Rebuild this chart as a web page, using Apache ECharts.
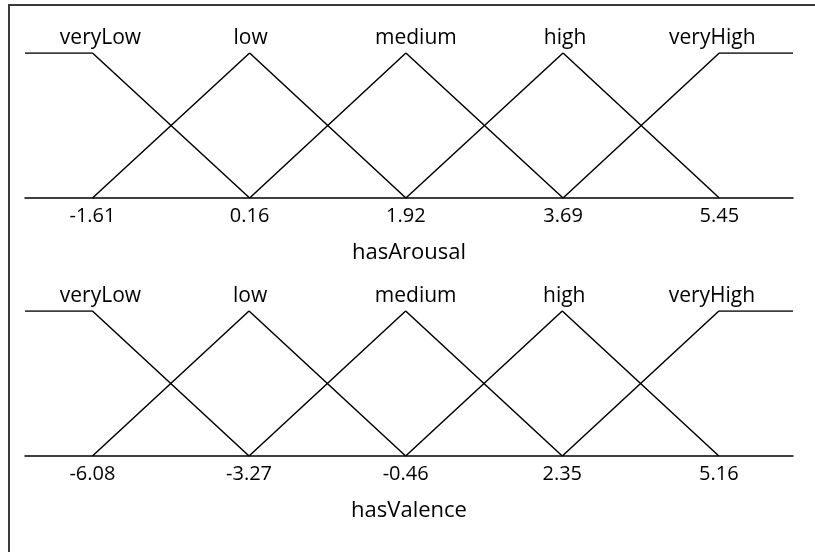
<!DOCTYPE html>
<html>
<head>
<meta charset="utf-8">
<script src="https://cdn.jsdelivr.net/npm/echarts@6/dist/echarts.min.js"></script>
<style>
    html, body { margin: 0; padding: 0; background: #fff; }
    #chart { width: 815px; height: 552px; }
</style>
</head>
<body>
<div id="chart"></div>
<script>
// fuzzy terms and their breakpoints
let terms = ['veryLow', 'low', 'medium', 'high', 'veryHigh'];
let arousalTicks = [-1.61, 0.16, 1.92, 3.69, 5.45];
let valenceTicks = [-6.08, -3.27, -0.46, 2.35, 5.16];
let arousalRange = [-2.37, 6.28];
let valenceRange = [-7.29, 6.49];

// label nudges so text sits like the original
let labelShift = [[8, 0], [1, 0], [10, 0], [2, 0], [-7, 0]];

function membership(ticks, range, i) {
    if (i === 0) return [[range[0], 1], [ticks[0], 1], [ticks[1], 0]];
    if (i === ticks.length - 1) return [[ticks[i - 1], 0], [ticks[i], 1], [range[1], 1]];
    return [[ticks[i - 1], 0], [ticks[i], 1], [ticks[i + 1], 0]];
}

function makeSeries(ticks, range, axisIndex) {
    return terms.map(function (name, i) {
        let pts = membership(ticks, range, i);
        return {
            name: name,
            type: 'line',
            xAxisIndex: axisIndex,
            yAxisIndex: axisIndex,
            showSymbol: true,
            symbol: 'circle',
            symbolSize: 0.01,
            animation: false,
            itemStyle: { color: '#000' },
            lineStyle: { color: '#000', width: 1.5 },
            label: { show: false },
            data: pts.map(function (p, k) {
                if (k !== 1) return p;
                return {
                    value: p,
                    label: {
                        show: true,
                        position: 'top',
                        distance: 4,
                        offset: labelShift[i],
                        formatter: name,
                        color: '#000',
                        fontFamily: 'Open Sans',
                        fontSize: 21
                    }
                };
            })
        };
    });
}

function xAxisFor(ticks, range, name, idx) {
    return {
        type: 'value',
        gridIndex: idx,
        min: range[0],
        max: range[1],
        name: name,
        nameLocation: 'middle',
        nameGap: 44,
        nameTextStyle: { color: '#000', fontFamily: 'Open Sans', fontSize: 22 },
        splitLine: { show: false },
        axisLine: { show: true, onZero: false, lineStyle: { color: '#000', width: 1.5 } },
        axisTick: { show: false },
        axisLabel: {
            customValues: ticks,
            margin: 8,
            color: '#000',
            fontFamily: 'Open Sans',
            fontSize: 20,
            formatter: function (v) { return v.toFixed(2); }
        }
    };
}

function yAxisFor(idx) {
    return {
        type: 'value',
        gridIndex: idx,
        min: 0,
        max: 1,
        show: false
    };
}

let chart = echarts.init(document.getElementById('chart'));
let option = {
    backgroundColor: '#fff',
    grid: [
        { left: 25, right: 22, top: 53, height: 145 },
        { left: 25, right: 22, top: 311, height: 145 }
    ],
    xAxis: [
        xAxisFor(arousalTicks, arousalRange, 'hasArousal', 0),
        xAxisFor(valenceTicks, valenceRange, 'hasValence', 1)
    ],
    yAxis: [yAxisFor(0), yAxisFor(1)],
    graphic: [{
        type: 'rect',
        shape: { x: 9, y: 5, width: 830, height: 560 },
        style: { fill: 'none', stroke: '#3a3a3a', lineWidth: 2 },
        silent: true
    }],
    series: makeSeries(arousalTicks, arousalRange, 0)
        .concat(makeSeries(valenceTicks, valenceRange, 1))
};
chart.setOption(option);
</script>
</body>
</html>
